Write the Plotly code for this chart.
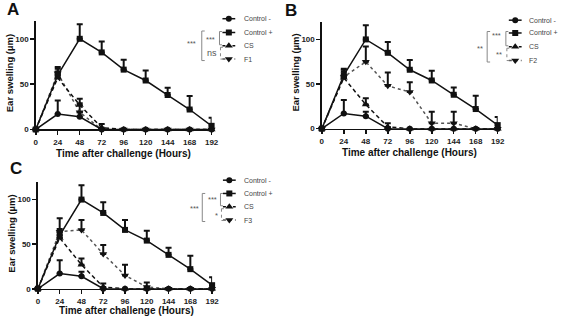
import plotly.graph_objects as go

# ---------------- data ----------------
hours = [0, 24, 48, 72, 96, 120, 144, 168, 192]
ctrl_neg = [0, 17, 14, 0, 0, 0, 0, 0, 0]
ctrl_neg_err = [None, 15, 5, None, None, None, None, None, None]
ctrl_pos = [0, 60, 100, 85, 66, 54, 38, 22, 4]
ctrl_pos_err = [None, 7, 16, 12, 11, 11, 8, 15, 9]
cs = [0, 57, 27, 2, 0, 0, 0, 0, 0]
cs_err = [None, 7, 7, 4, None, None, None, None, None]
f1 = [0, 62, 19, 0, 0, 0, 0, 0, 0]
f1_err = [None, 7, 10, None, None, None, None, None, None]
f2 = [0, 58, 75, 48, 41, 6, 6, 0, 0]
f2_err = [None, 8, 17, 15, 11, 13, 13, None, None]
f3 = [0, 64, 66, 39, 15, 2, 0, 0, 0]
f3_err = [None, 15, 11, 10, 12, 5, None, None, None]

x_ticks = [0, 24, 48, 72, 96, 120, 144, 168, 192]
y_ticks = [0, 50, 100]
panel_labels = ["A", "B", "C"]
fraction_names = ["F1", "F2", "F3"]
fraction_values = [f1, f2, f3]
fraction_errors = [f1_err, f2_err, f3_err]
series_names = ["Control -", "Control +", "CS"]
outer_sig = ["***", "**", "***"]
inner_top_sig = ["***", "***", "***"]
inner_bot_sig = ["ns", "**", "*"]

W, H = 567, 323
FONT = "Arial, Liberation Sans, sans-serif"

fig = go.Figure()

# panel geometry (pixels): x0, x192, y0, y120
panels = [
    dict(x0=34.3, x1=213.0, y0=131.5, y1=21.0),
    dict(x0=325.0, x1=503.7, y0=130.7, y1=21.9),
    dict(x0=36.5, x1=213.5, y0=293.3, y1=184.6),
]

def dom_x(p):
    return [p["x0"] / W, p["x1"] / W]

def dom_y(p):
    return [1 - p["y0"] / H, 1 - p["y1"] / H]

styles = [
    dict(symbol="circle", size=6, dash="solid", color="#111"),
    dict(symbol="square", size=6, dash="solid", color="#111"),
    dict(symbol="triangle-up", size=7, dash="4px,3px", color="#111"),
    dict(symbol="triangle-down", size=7, dash="dot", color="#555"),
]

layout_axes = {}
for i, p in enumerate(panels):
    sx = "" if i == 0 else str(i + 1)
    xa = "x" + sx
    ya = "y" + sx
    vals = [ctrl_neg, ctrl_pos, cs, fraction_values[i]]
    errs = [ctrl_neg_err, ctrl_pos_err, cs_err, fraction_errors[i]]
    order = [3, 2, 0, 1]
    for k in order:
        st = styles[k]
        fig.add_trace(go.Scatter(
            x=hours, y=vals[k], xaxis=xa, yaxis=ya, mode="lines+markers",
            line=dict(color=st["color"], width=1.5, dash=st["dash"]),
            marker=dict(symbol=st["symbol"], size=st["size"], color="#111"),
            error_y=dict(type="data", array=errs[k], symmetric=False,
                         arrayminus=[0] * len(hours), color="#111",
                         thickness=2, width=3),
            cliponaxis=False, showlegend=False, hoverinfo="skip"))
    tf = dict(family=FONT, size=8, color="#222", weight="bold")
    layout_axes["xaxis" + sx] = dict(
        domain=dom_x(p), range=[0, 192], anchor=ya, tickvals=x_ticks,
        showline=True, linecolor="#111", linewidth=1.5, ticks="outside",
        ticklen=4, tickwidth=1.5, tickcolor="#111", showgrid=False,
        zeroline=False, tickfont=tf, fixedrange=True)
    layout_axes["yaxis" + sx] = dict(
        domain=dom_y(p), range=[0, 120], anchor=xa, tickvals=y_ticks,
        showline=True, linecolor="#111", linewidth=1.5, ticks="outside",
        ticklen=4, tickwidth=1.5, tickcolor="#111", showgrid=False,
        zeroline=False, tickfont=tf, fixedrange=True)

# overlay pixel axis for labels, legend keys and brackets
layout_axes["xaxis4"] = dict(domain=[0, 1], range=[0, W], visible=False,
                             anchor="y4", fixedrange=True)
layout_axes["yaxis4"] = dict(domain=[0, 1], range=[H, 0], visible=False,
                             anchor="x4", fixedrange=True)

annotations = []
shapes = []

def txt(x, y, s, size, color="#333", bold=False, xanchor="center", angle=0):
    annotations.append(dict(
        x=x, y=y, xref="x4", yref="y4", text=("<b>%s</b>" % s) if bold else s,
        showarrow=False, xanchor=xanchor, yanchor="middle", textangle=angle,
        borderpad=0, font=dict(family=FONT, size=size, color=color)))

def seg(x0, y0, x1, y1, color="#888", width=1, dash="solid"):
    shapes.append(dict(type="line", xref="x4", yref="y4", x0=x0, y0=y0,
                       x1=x1, y1=y1, line=dict(color=color, width=width, dash=dash)))

# per-panel texts
letter_pos = [(11.5, 10), (293.5, 10.5), (14.5, 171)]
ytitle_pos = [(7.5, 74), (298.5, 74), (9.5, 237)]
xtitle_pos = [(123.5, 155.5), (414, 155), (126, 315.5)]
legend_rows = [(19, 33, 46.5, 60), (20.5, 33.5, 47.5, 61.5), (183, 196.5, 210, 223.5)]
legend_x = [230.5, 521.5, 231]
legend_gap = [14.5, 12.5, 14.0]
brackets = [
    dict(ox=203, oy0=31.5, oy1=61.5, osx=193, osy=44,
         ix=221, iy0=32, iy1=45.5, isx=211.5, isy=40,
         bx=222, by0=48, by1=60, bsx=213, bsy=54, bsize=9),
    dict(ox=493, oy0=32, oy1=63, osx=486, osy=49,
         ix=512, iy0=32, iy1=46.5, isx=502, isy=36,
         bx=513, by0=49, by1=61.5, bsx=505, bsy=55, bsize=7.5),
    dict(ox=203.5, oy0=196.5, oy1=225, osx=195.5, osy=212,
         ix=222, iy0=196.5, iy1=209, isx=213.5, isy=203,
         bx=223, by0=212, by1=224, bsx=218, bsy=219, bsize=7.5),
]

for i in range(3):
    lx, ly = letter_pos[i]
    txt(lx, ly, panel_labels[i], 17, color="#111", bold=True)
    tx, ty = ytitle_pos[i]
    txt(tx, ty, "Ear swelling (µm)", 9.5, color="#111", bold=True, angle=-90)
    xx, xy = xtitle_pos[i]
    txt(xx, xy, "Time after challenge (Hours)", 10, color="#111", bold=True)
    names = series_names + [fraction_names[i]]
    mx = legend_x[i]
    for k in range(4):
        st = styles[k]
        ry = legend_rows[i][k]
        fig.add_trace(go.Scatter(
            x=[mx - 6.5, mx, mx + 6.5], y=[ry, ry, ry], xaxis="x4", yaxis="y4",
            mode="lines", line=dict(color=st["color"], width=1.5,
                                    dash="solid" if k < 2 else ("3px,2px" if k == 2 else "dot")),
            showlegend=False, hoverinfo="skip", cliponaxis=False))
        fig.add_trace(go.Scatter(
            x=[mx], y=[ry], xaxis="x4", yaxis="y4", mode="markers",
            marker=dict(symbol=st["symbol"], size=st["size"], color="#111"),
            showlegend=False, hoverinfo="skip", cliponaxis=False))
        txt(mx + legend_gap[i], ry, names[k], 7, color="#444", xanchor="left")
    b = brackets[i]
    # outer bracket
    seg(b["ox"], b["oy0"], b["ox"], b["oy1"])
    seg(b["ox"], b["oy0"], b["ox"] + 3, b["oy0"])
    seg(b["ox"], b["oy1"], b["ox"] + 3, b["oy1"])
    txt(b["osx"], b["osy"], outer_sig[i], 7.5, color="#555")
    # inner top bracket
    seg(b["ix"], b["iy0"], b["ix"], b["iy1"])
    seg(b["ix"], b["iy0"], b["ix"] + 2.5, b["iy0"])
    seg(b["ix"], b["iy1"], b["ix"] + 2.5, b["iy1"])
    txt(b["isx"], b["isy"], inner_top_sig[i], 7.5, color="#555")
    # inner bottom bracket
    seg(b["bx"], b["by0"], b["bx"], b["by1"], dash="dot")
    seg(b["bx"], b["by0"], b["bx"] + 2.5, b["by0"])
    seg(b["bx"], b["by1"], b["bx"] + 2.5, b["by1"])
    txt(b["bsx"], b["bsy"], inner_bot_sig[i], b["bsize"], color="#555")

fig.update_layout(
    width=W, height=H, margin=dict(l=0, r=0, t=0, b=0),
    paper_bgcolor="white", plot_bgcolor="rgba(0,0,0,0)",
    showlegend=False, annotations=annotations, shapes=shapes,
    font=dict(family=FONT), **layout_axes)

fig.write_html("out.html",
               config={"displayModeBar": False, "staticPlot": True},
               post_script="document.body.style.margin='0px';document.body.style.padding='0px';document.body.style.overflow='hidden';")
